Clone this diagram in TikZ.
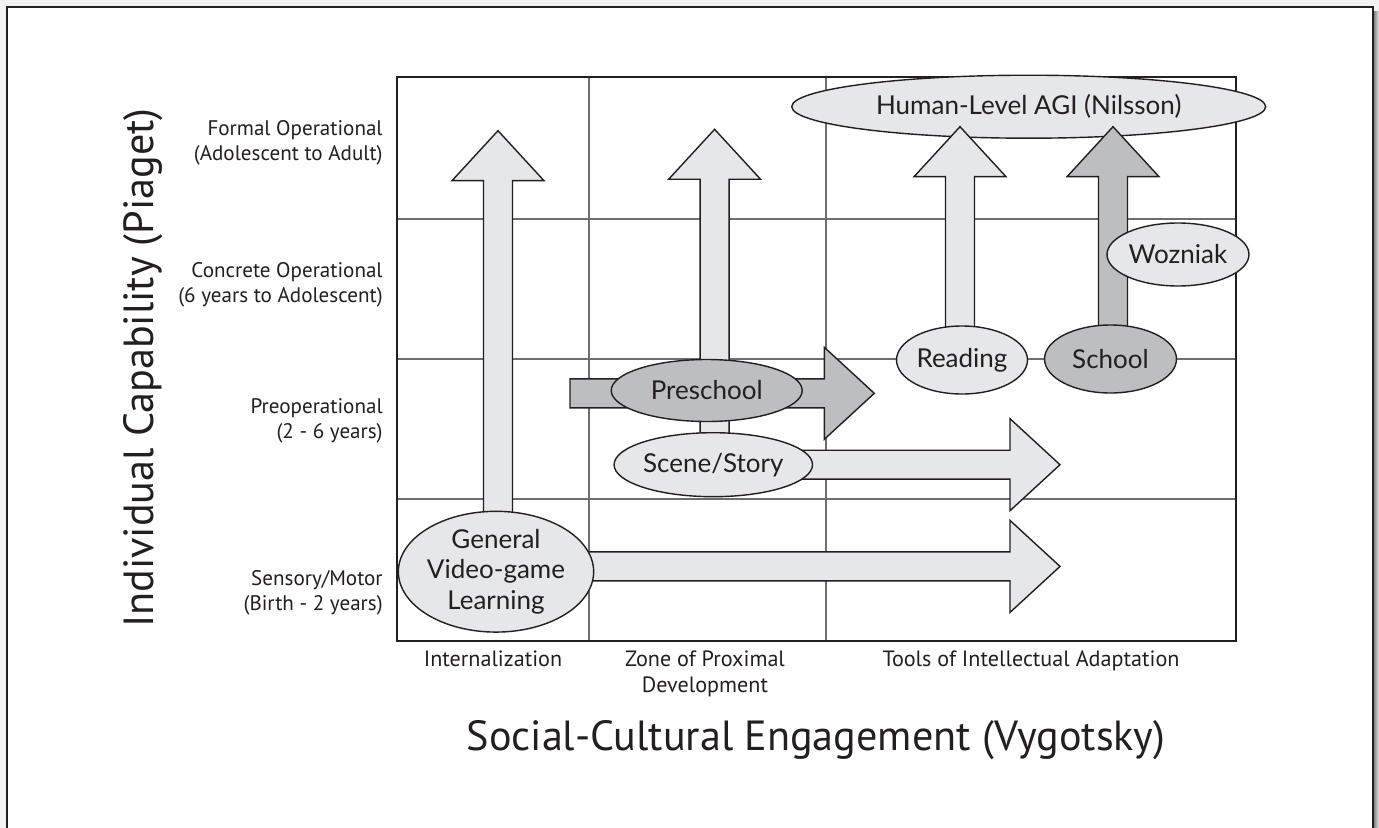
\documentclass[tikz,border=0pt]{standalone}
\usepackage{fontspec}
\setmainfont{PT Sans}
\newfontfamily\ovalfont{Lato}
\usetikzlibrary{shapes.geometric, positioning, calc}

\definecolor{lightfill}{HTML}{E6E7E8}
\definecolor{darkfill}{HTML}{BCBEC0}
\definecolor{ink}{HTML}{231F20}
\definecolor{gridgray}{HTML}{6D6E71}

\pgfdeclarelayer{back}
\pgfdeclarelayer{arrows}
\pgfsetlayers{back,arrows,main}

\tikzset{
    stage/.style={
        ellipse, draw=ink, line width=0.8pt, inner sep=0pt, text=ink, align=center,
        font=\ovalfont\fontsize{14.8}{17.5}\selectfont
    },
    light/.style={fill=lightfill},
    dark/.style={fill=darkfill},
    blockarrow/.style={draw=ink, line width=0.8pt, line join=miter},
    gridline/.style={draw=gridgray, line width=0.75pt},
    rowlabel/.style={anchor=east, align=right, inner sep=0pt, text=ink, font=\fontsize{12}{14.2}\selectfont},
    collabel/.style={anchor=north, align=center, inner sep=0pt, text=ink, font=\fontsize{12.6}{14.8}\selectfont},
    axislabel/.style={inner sep=0pt, text=ink, font=\fontsize{24}{28}\selectfont}
}

% block arrows: style, start node, tip coordinate
\newcommand{\vblock}[3]{%
    \draw[blockarrow, #1] let \p1=(#2), \p2=(#3) in
        (\x2-0.29cm,\y1) -- (\x2-0.29cm,\y2-1cm) -- (\x2-0.92cm,\y2-1cm) -- (\p2)
        -- (\x2+0.92cm,\y2-1cm) -- (\x2+0.29cm,\y2-1cm) -- (\x2+0.29cm,\y1) -- cycle;
}
\newcommand{\hblock}[3]{%
    \draw[blockarrow, #1] let \p1=(#2), \p2=(#3) in
        (\x1,\y2+0.29cm) -- (\x2-1cm,\y2+0.29cm) -- (\x2-1cm,\y2+0.92cm) -- (\p2)
        -- (\x2-1cm,\y2-0.92cm) -- (\x2-1cm,\y2-0.29cm) -- (\x1,\y2-0.29cm) -- cycle;
}

\begin{document}
\begin{tikzpicture}[x=0.02cm, y=-0.02cm]

    \useasboundingbox (0,0) rectangle (1379,828);

    \begin{pgfonlayer}{back}
        % Page frame
        \fill[black!5] (0,0) rectangle (1379,828);
        \shade[left color=black!55, right color=black!10] (1373,12) rectangle (1379,828);
        \fill[white] (7,7) rectangle (1373,828);
        \draw[ink, line width=0.7pt] (7,830) -- (7,7) -- (1373,7) -- (1373,830);

        % Grid
        \foreach \gx in {589,826}
            \draw[gridline] (\gx,77) -- (\gx,641);
        \foreach \gy in {219,359,499}
            \draw[gridline] (397,\gy) -- (1236,\gy);
        \draw[ink, line width=1.3pt] (397,77) rectangle (1236,641);

        % Goal
        \node[stage, light, minimum width=9.48cm, minimum height=1.26cm] (agi) at (1028.7,106.7) {Human-Level AGI (Nilsson)};
    \end{pgfonlayer}

    % Stages
    \node[stage, light, minimum width=3.56cm, minimum height=2.34cm] (general) at (496,571.7) {General\\Video-game\\Learning};
    \node[stage, light, minimum width=3.8cm, minimum height=1.28cm] (scene) at (713.3,464.7) {Scene/Story};
    \node[stage, dark, minimum width=3.82cm, minimum height=1.24cm] (preschool) at (706.7,390.5) {Preschool};
    \node[stage, light, minimum width=2.62cm, minimum height=1.36cm] (reading) at (962,360) {Reading};
    \node[stage, dark, minimum width=2.64cm, minimum height=1.36cm] (school) at (1110.5,359) {School};
    \node[stage, light, minimum width=2.84cm, minimum height=1.26cm] (wozniak) at (1178,254.5) {Wozniak};

    % Arrow ends
    \coordinate (generalTop) at (498,130.7);
    \coordinate (sceneTop) at (714.6,129.3);
    \coordinate (readingTop) at (960,126.7);
    \coordinate (schoolTop) at (1113,126.7);
    \coordinate (preStart) at (570,393.3);
    \coordinate (preTip) at (874.3,393.3);
    \coordinate (sceneTip) at (1060,464.7);
    \coordinate (generalTip) at (1060,566.4);

    % Arrows
    \begin{pgfonlayer}{arrows}
        \vblock{light}{general}{generalTop}
        \vblock{light}{scene}{sceneTop}
        \vblock{light}{reading}{readingTop}
        \vblock{dark}{school}{schoolTop}
        \hblock{dark}{preStart}{preTip}
        \hblock{light}{scene}{sceneTip}
        \hblock{light}{general}{generalTip}
    \end{pgfonlayer}

    % Row labels
    \node[rowlabel] (formal) at (383,142.5) {Formal Operational\\(Adolescent to Adult)};
    \node[rowlabel] (concrete) at (383,284.5) {Concrete Operational\\(6 years to Adolescent)};
    \node[rowlabel] (preop) at (383,420.5) {Preoperational\\(2 - 6 years)};
    \node[rowlabel] (sensory) at (383,592.5) {Sensory/Motor\\(Birth - 2 years)};

    % Column labels
    \node[collabel] (intern) at (493,650) {Internalization};
    \node[collabel] (zone) at (705,650) {Zone of Proximal\\Development};
    \node[collabel] (tools) at (1031,650) {Tools of Intellectual Adaptation};

    % Axis titles
    \node[axislabel, rotate=90] (ycap) at (143,368) {Individual Capability (Piaget)};
    \node[axislabel] (xcap) at (816,740) {Social-Cultural Engagement (Vygotsky)};

\end{tikzpicture}
\end{document}
